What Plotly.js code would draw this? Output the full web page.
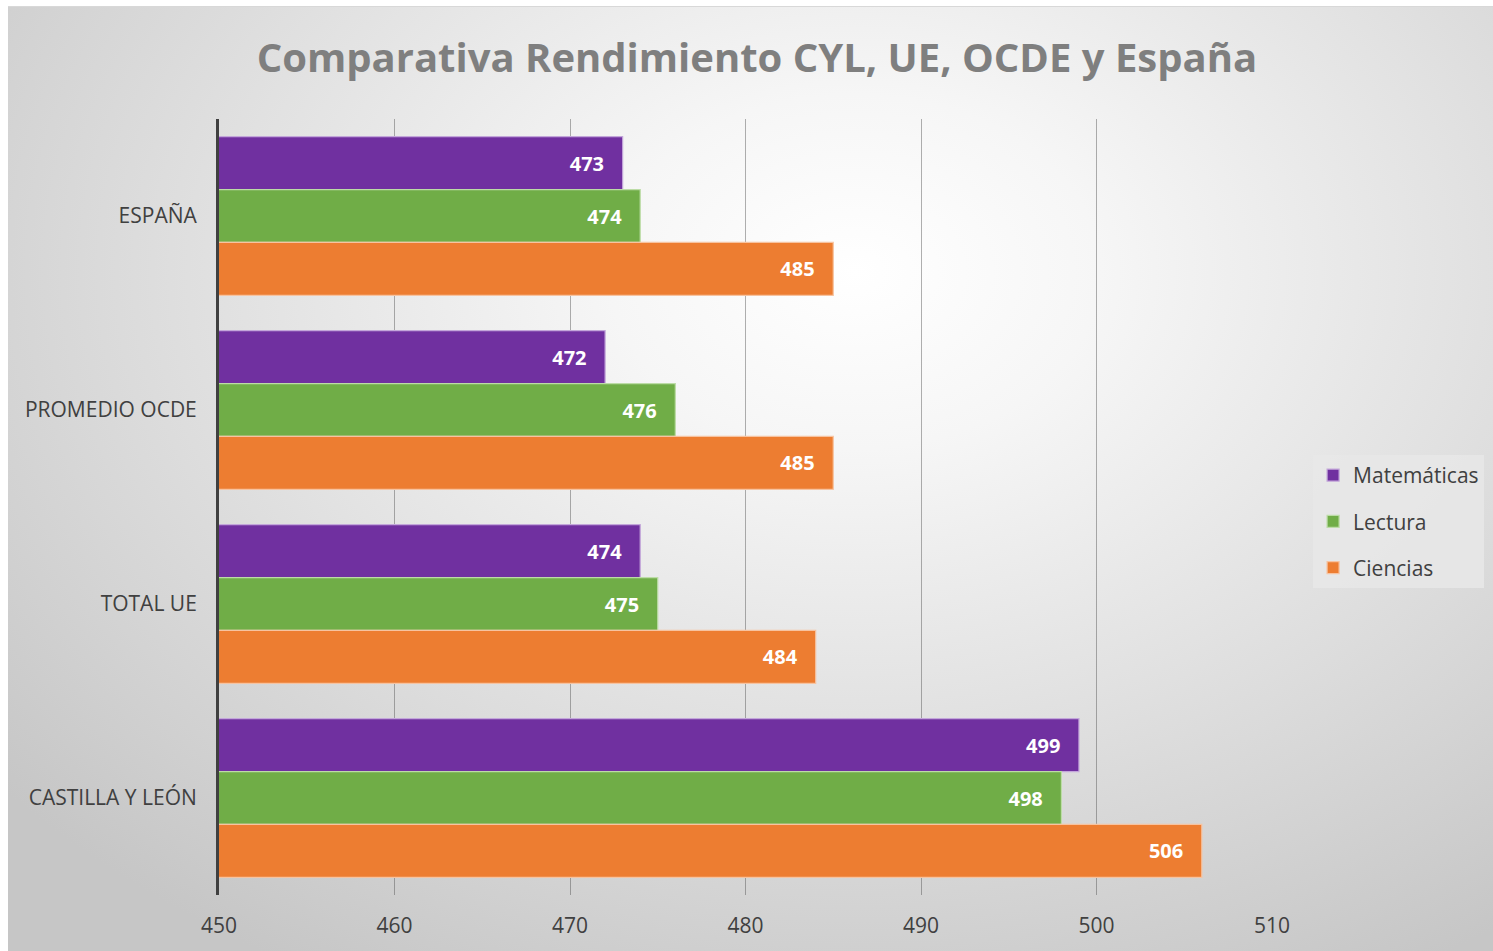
<!DOCTYPE html>
<html>
<head>
<meta charset="utf-8">
<script src="https://cdn.plot.ly/plotly-3.0.1.min.js"></script>
<style>
  html, body { margin: 0; padding: 0; background: #ffffff; width: 1493px; height: 951px; overflow: hidden; }
  #bg { position: absolute; left: 8px; top: 6px; width: 1485px; height: 945px;
        background: radial-gradient(ellipse 75% 85% at 57% 28%, #ffffff 0%, #f6f6f6 22%, #e2e2e2 55%, #c6c6c6 100%);
        border-top: 1px solid #d8d8d8; }
  #chart { position: absolute; left: 0; top: 0; width: 1493px; height: 951px; }
</style>
</head>
<body>
<div id="bg"></div>
<div id="chart"></div>
<script>
const categories = ["ESPAÑA", "PROMEDIO OCDE", "TOTAL UE", "CASTILLA Y LEÓN"];
const matematicas = [473, 472, 474, 499];
const lectura = [474, 476, 475, 498];
const ciencias = [485, 485, 484, 506];
const xTicks = [450, 460, 470, 480, 490, 500, 510];

const labelFont = {family: "Open Sans, sans-serif", size: 20, color: "#ffffff", weight: "bold"};
function series(name, values, color, border, group) {
  return {
    type: "bar", orientation: "h", name: name,
    x: values, y: categories,
    legendgroup: group,
    marker: {color: color, line: {color: border, width: 1.2}},
    texttemplate: "<b>%{x}</b>\u00a0\u00a0\u00a0",
    textposition: "inside", insidetextanchor: "end",
    textfont: labelFont, constraintext: "none",
    hoverinfo: "x+name"
  };
}

const data = [
  series("Matemáticas", matematicas, "#7030a0", "#c3a6da", "g1"),
  series("Lectura", lectura, "#70ad47", "#bcdca6", "g2"),
  series("Ciencias", ciencias, "#ed7d31", "#f7c3a0", "g3")
];

const layout = {
  width: 1493, height: 951,
  paper_bgcolor: "rgba(0,0,0,0)", plot_bgcolor: "rgba(0,0,0,0)",
  margin: {l: 219, r: 221, t: 119, b: 56, autoexpand: false},
  font: {family: "Open Sans, sans-serif", color: "#404040"},
  title: {
    text: "<b>Comparativa Rendimiento CYL, UE, OCDE y España</b>",
    font: {family: "Open Sans, sans-serif", size: 40, color: "#7f7f7f"},
    x: 0.507, xanchor: "center", y: 0.939, yanchor: "middle", yref: "container"
  },
  barmode: "group", bargap: 0.182, bargroupgap: 0,
  xaxis: {
    range: [450, 510], tickvals: xTicks, ticktext: xTicks.map(String),
    showgrid: true, gridcolor: "rgba(80,80,80,0.45)", gridwidth: 1.3,
    zeroline: false, showline: false, ticks: "", automargin: false,
    tickfont: {size: 21, color: "#404040"}, ticklabelstandoff: 16, fixedrange: true
  },
  yaxis: {
    type: "category", autorange: "reversed",
    showline: true, linecolor: "#404040", linewidth: 3,
    showgrid: false, zeroline: false, ticks: "", automargin: false,
    tickfont: {size: 21, color: "#404040"}, ticklabelstandoff: 15, fixedrange: true
  },
  legend: {
    xref: "container", yref: "container",
    x: 0.8795, xanchor: "left", y: 0.5216, yanchor: "top",
    bgcolor: "rgba(232,232,232,0.85)", borderwidth: 0,
    font: {size: 21, color: "#404040"},
    traceorder: "grouped", tracegroupgap: 16,
    itemclick: false, itemdoubleclick: false
  },
  showlegend: true
};

Plotly.newPlot("chart", data, layout, {displayModeBar: false, staticPlot: false});
</script>
</body>
</html>
